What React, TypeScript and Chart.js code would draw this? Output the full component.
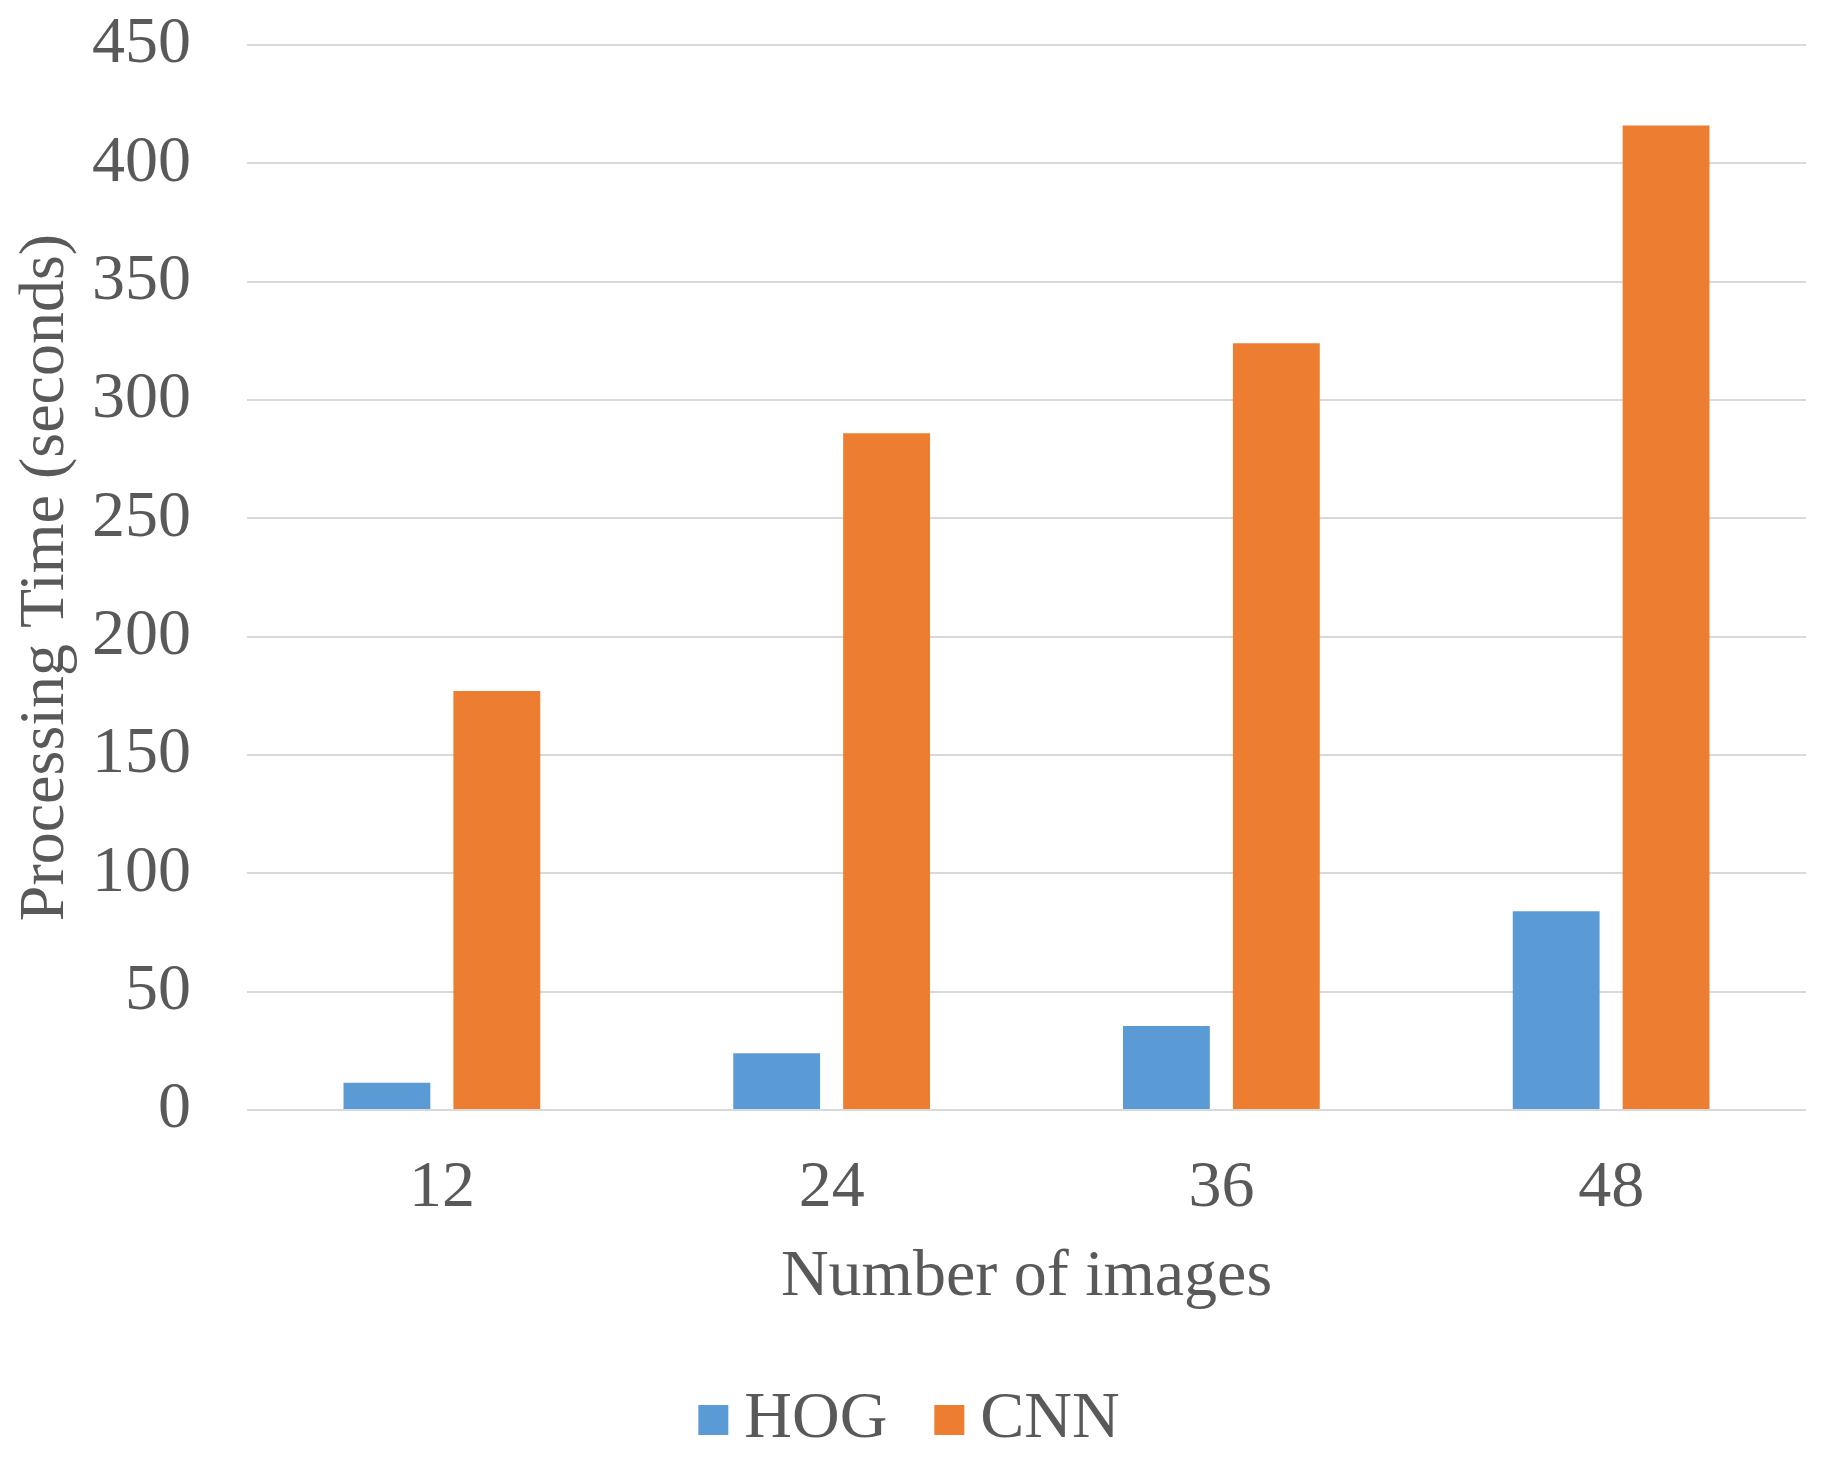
import React, { useEffect, useRef } from 'react';
import { Chart, registerables } from 'chart.js';

Chart.register(...registerables);

const categories = ['12', '24', '36', '48'];
const hogValues = [11.5, 24, 35.5, 84];
const cnnValues = [177, 286, 324, 416];
const yMin = 0;
const yMax = 450;
const yStep = 50;
const seriesNames = ['HOG', 'CNN'];
const seriesColors = ['#5B9BD5', '#ED7D31'];
const xTitle = 'Number of images';
const yTitle = 'Processing Time (seconds)';

const FONT = '"Liberation Serif", "Times New Roman", serif';
const FS = 66;
const TEXT = '#595959';

const bottomLegend = {
  id: 'bottomLegend',
  afterDraw(chart: any) {
    const ctx = chart.ctx as CanvasRenderingContext2D;
    const items = chart.data.datasets.map((d: any) => ({ label: d.label, color: d.backgroundColor }));
    const box = 30;
    const gap = 16;
    const spacing = 47;
    const cx = 901;
    const cy = 1412;
    ctx.save();
    ctx.font = `${FS}px ${FONT}`;
    const widths = items.map((it: any) => ctx.measureText(it.label).width);
    let total = 0;
    widths.forEach((w: number, i: number) => {
      total += box + gap + w + (i < widths.length - 1 ? spacing : 0);
    });
    let x = cx - total / 2;
    ctx.textBaseline = 'middle';
    ctx.textAlign = 'left';
    items.forEach((it: any, i: number) => {
      ctx.fillStyle = it.color;
      ctx.fillRect(x, cy - box / 2, box, box);
      x += box + gap;
      ctx.fillStyle = TEXT;
      ctx.fillText(it.label, x, cy);
      x += widths[i] + spacing;
    });
    ctx.restore();
  },
};

export default function App() {
  const ref = useRef<HTMLCanvasElement | null>(null);
  useEffect(() => {
    if (!ref.current) return;
    const chart = new Chart(ref.current, {
      type: 'bar',
      data: {
        labels: categories,
        datasets: [
          { label: seriesNames[0], data: hogValues, backgroundColor: seriesColors[0], barPercentage: 0.79, categoryPercentage: 0.564 },
          { label: seriesNames[1], data: cnnValues, backgroundColor: seriesColors[1], barPercentage: 0.79, categoryPercentage: 0.564 },
        ],
      },
      options: {
        animation: false,
        responsive: false,
        maintainAspectRatio: false,
        layout: { padding: { left: 0, right: 7, top: 37, bottom: 61 } },
        plugins: {
          tooltip: { enabled: false },
          legend: { display: false },
        },
        scales: {
          x: {
            grid: { display: false },
            border: { display: false },
            ticks: { font: { family: FONT, size: FS }, color: TEXT, padding: 31 },
            title: { display: true, text: xTitle, font: { family: FONT, size: FS }, color: TEXT, padding: { top: 0, bottom: 72 } },
            afterFit: (s: any) => { s.height = 279; s.paddingLeft = 0; s.paddingRight = 0; },
          },
          y: {
            min: yMin,
            max: yMax,
            ticks: { stepSize: yStep, font: { family: FONT, size: FS }, color: TEXT, padding: 56 },
            grid: { color: '#D9D9D9', lineWidth: 2, drawTicks: false },
            border: { display: false },
            title: { display: true, text: yTitle, font: { family: FONT, size: 64 }, color: TEXT, padding: 0 },
            afterFit: (s: any) => { s.width = 239; s.paddingTop = 0; s.paddingBottom = 0; },
          },
        },
      },
      plugins: [bottomLegend],
    });
    return () => chart.destroy();
  }, []);
  return (
    <div style={{ width: 1805, height: 1442 }}>
      <canvas ref={ref} width={1805} height={1442} style={{ display: 'block' }} />
    </div>
  );
}
